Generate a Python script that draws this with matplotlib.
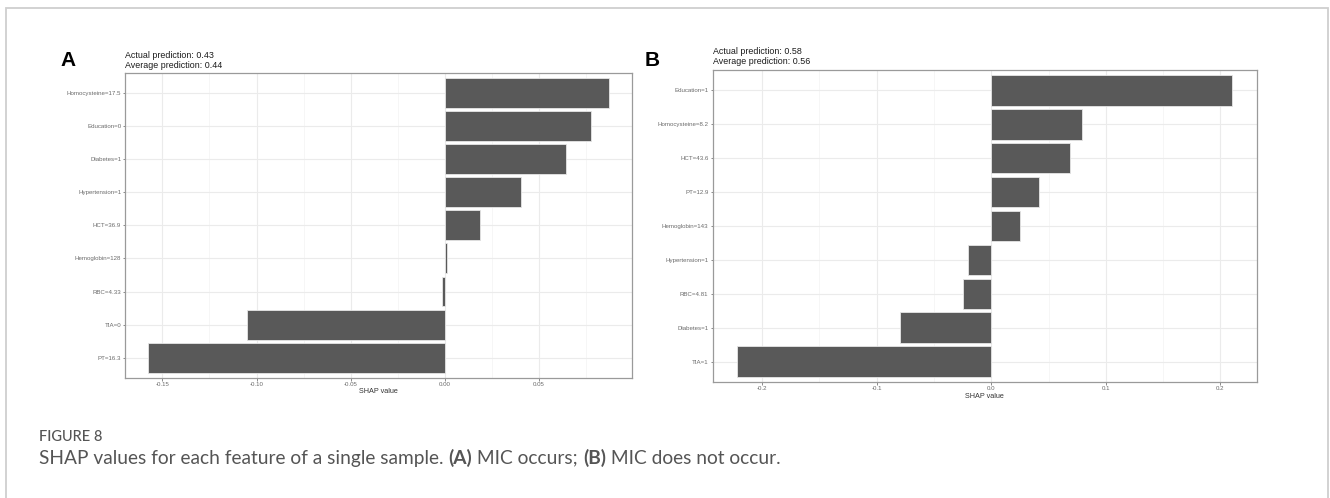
import matplotlib
matplotlib.use("Agg")
import matplotlib.pyplot as plt
from matplotlib.ticker import MultipleLocator, FormatStrFormatter
from matplotlib.patches import Rectangle
import numpy as np

# ---------------- data (top-to-bottom order) ----------------
features_a = ["Homocysteine=17.5", "Education=0", "Diabetes=1", "Hypertension=1",
              "HCT=36.9", "Hemoglobin=128", "RBC=4.33", "TIA=0", "PT=16.3"]
shap_a = [0.0872, 0.0774, 0.0646, 0.0403, 0.0185, 0.0012, -0.0015, -0.1050, -0.1574]
title_a = ["Actual prediction: 0.43", "Average prediction: 0.44"]

features_b = ["Education=1", "Homocysteine=8.2", "HCT=43.6", "PT=12.9",
              "Hemoglobin=143", "Hypertension=1", "RBC=4.81", "Diabetes=1", "TIA=1"]
shap_b = [0.2100, 0.0796, 0.0684, 0.0418, 0.0250, -0.0206, -0.0250, -0.0796, -0.2217]
title_b = ["Actual prediction: 0.58", "Average prediction: 0.56"]

xlabel = "SHAP value"
caption_head = "FIGURE 8"
caption_parts = [("SHAP values for each feature of a single sample. ", "normal"),
                 ("(A)", "bold"), (" MIC occurs; ", "normal"),
                 ("(B)", "bold"), (" MIC does not occur.", "normal")]

# ---------------- figure ----------------
W, H = 1330, 498
fig = plt.figure(figsize=(W / 100, H / 100), dpi=100)
fig.patch.set_facecolor("white")

def fx(px):
    return px / W

def fy(py):
    return 1 - py / H

# outer frame (open at bottom)
frame = Rectangle((fx(6), fy(540)), fx(1328) - fx(6), fy(8) - fy(540),
                  transform=fig.transFigure, fill=False, edgecolor="#cfcfcf",
                  linewidth=1.3, clip_on=False)
fig.add_artist(frame)

CHART_FONT = ["Liberation Sans", "DejaVu Sans"]


def panel(rect, feats, vals, major, fmt, titles, title_y):
    ax = fig.add_axes(rect)
    n = len(feats)
    ax.barh(feats[::-1], vals[::-1], height=0.9, color="#595959",
            edgecolor="#e6e6e6", linewidth=0.6, zorder=3)
    ax.set_ylim(-0.6, n - 0.4)
    ax.margins(x=0.05)
    ax.xaxis.set_major_locator(MultipleLocator(major))
    ax.xaxis.set_minor_locator(MultipleLocator(major / 2))
    ax.xaxis.set_major_formatter(FormatStrFormatter(fmt))
    ax.grid(True, which="major", color="#ebebeb", linewidth=0.8, zorder=0)
    ax.grid(True, which="minor", axis="x", color="#f3f3f3", linewidth=0.5, zorder=0)
    ax.set_axisbelow(True)
    for s in ax.spines.values():
        s.set_color("#9a9a9a")
        s.set_linewidth(0.9)
    ax.tick_params(which="major", length=1.8, width=0.6, color="#777777",
                   labelsize=4.4, labelcolor="#6a6a6a", pad=1.2)
    ax.tick_params(which="minor", length=0)
    for lab in ax.get_xticklabels() + ax.get_yticklabels():
        lab.set_family(CHART_FONT)
    ax.set_xlabel(xlabel, fontsize=5.2, color="#333333", labelpad=1.0,
                  family=CHART_FONT)
    x0 = rect[0]
    for t, yy in zip(titles, title_y):
        fig.text(x0, fy(yy), t, fontsize=6.4, color="#1a1a1a", ha="left",
                 va="center", family=CHART_FONT)
    return ax

ax_a = panel([fx(125.4), fy(377.8), fx(632) - fx(125.4), fy(72.7) - fy(377.8)],
             features_a, shap_a, 0.05, "%.2f", title_a, [55, 65])
ax_b = panel([fx(712.6), fy(382), fx(1256.6) - fx(712.6), fy(70) - fy(382)],
             features_b, shap_b, 0.1, "%.1f", title_b, [52, 62])

# panel letters
fig.text(fx(68), fy(60), "A", fontsize=15, fontweight="bold", ha="center",
         va="center", family=CHART_FONT, color="black")
fig.text(fx(652), fy(60), "B", fontsize=15, fontweight="bold", ha="center",
         va="center", family=CHART_FONT, color="black")

# caption
CAP_FONT = ["Lato", "DejaVu Sans"]
fig.text(fx(39), fy(437), caption_head, fontsize=10.5, color="#555555",
         ha="left", va="center", family=CAP_FONT, fontweight="medium")

overlay = fig.add_axes([0, 0, 1, 1], facecolor="none")
overlay.set_axis_off()
CAP_SIZE = 13.8
prev = overlay.text(fx(39), fy(458), caption_parts[0][0], fontsize=CAP_SIZE,
                    color="#555555", ha="left", va="center", family=CAP_FONT,
                    fontweight=caption_parts[0][1], transform=fig.transFigure)
for txt, wt in caption_parts[1:]:
    prev = overlay.annotate(txt, xy=(1, 0.5), xycoords=prev, ha="left",
                            va="center", fontsize=CAP_SIZE, color="#555555",
                            family=CAP_FONT, fontweight=wt)

fig.savefig("out.png", dpi=100, facecolor="white")
